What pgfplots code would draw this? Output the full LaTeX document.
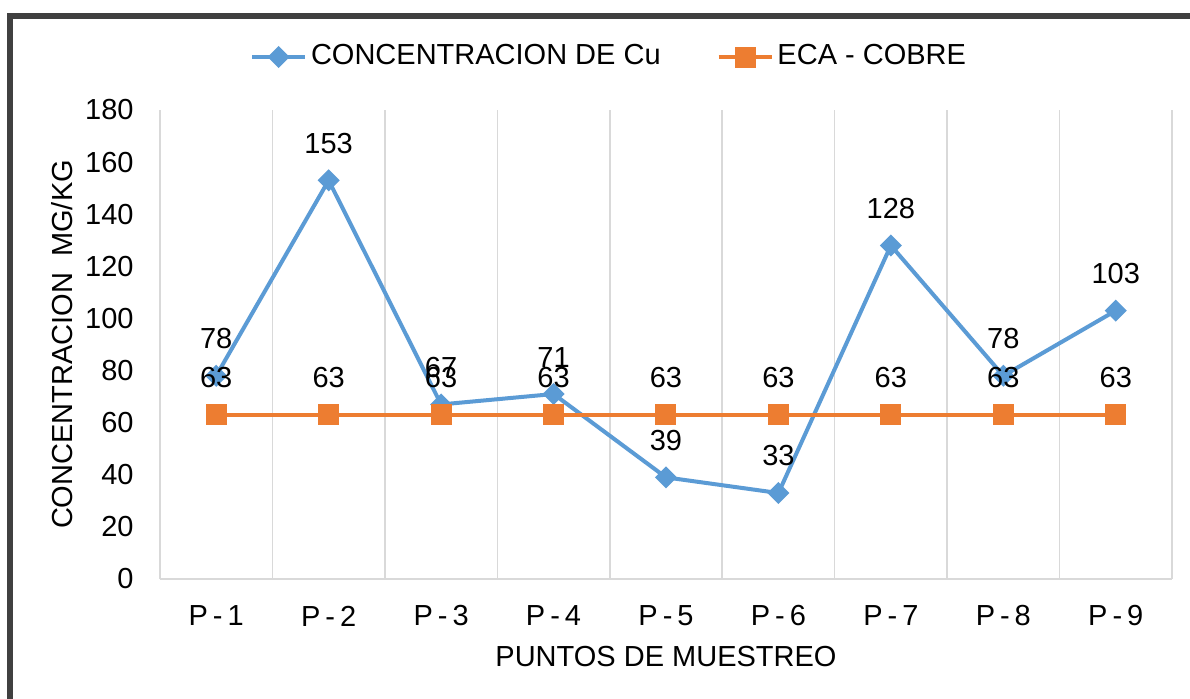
\documentclass[border=0pt]{standalone}
\usepackage{pgfplots}
\pgfplotsset{compat=1.18}
\usepackage{fontspec}
\setmainfont{Liberation Sans}
\definecolor{cuBlue}{HTML}{5B9BD5}
\definecolor{ecaOrange}{HTML}{ED7D31}
\definecolor{gridGray}{HTML}{D9D9D9}
\definecolor{frameGray}{HTML}{404040}

\begin{document}
\fontsize{14.5}{17}\selectfont
\begin{tikzpicture}
\useasboundingbox (0,0) rectangle (595pt,349pt);
\fill[white] (0,0) rectangle (595pt,349pt);
% outer frame (cropped on the right and bottom)
\draw[frameGray, line width=3pt] (620pt,340.85pt) -- (5.15pt,340.85pt) -- (5.15pt,-20pt);
\begin{axis}[
  at={(80pt,59.5pt)}, anchor=south west,
  width=506pt, height=234.5pt, scale only axis,
  font=\fontsize{14.5}{17}\selectfont,
  /pgf/number format/assume math mode=true,
  xmin=0.5, xmax=9.5, ymin=0, ymax=180,
  xtick={1,2,3,4,5,6,7,8,9},
  xticklabels={P{\kern2.5pt}-{\kern2.5pt}1,P{\kern2.5pt}-{\kern2.5pt}2,P{\kern2.5pt}-{\kern2.5pt}3,P{\kern2.5pt}-{\kern2.5pt}4,P{\kern2.5pt}-{\kern2.5pt}5,P{\kern2.5pt}-{\kern2.5pt}6,P{\kern2.5pt}-{\kern2.5pt}7,P{\kern2.5pt}-{\kern2.5pt}8,P{\kern2.5pt}-{\kern2.5pt}9},
  ytick={0,20,...,180},
  minor xtick={0.5,1.5,...,9.5},
  xminorgrids=true,
  minor grid style={gridGray, line width=0.75pt},
  extra y ticks={0}, extra y tick labels={},
  extra y tick style={ymajorgrids=true, major grid style={gridGray, line width=0.75pt}},
  major tick length=0pt, minor tick length=0pt,
  axis line style={draw=none},
  yticklabel style={anchor=east, inner sep=0pt, xshift=-13pt},
  xticklabel style={anchor=center, inner sep=0pt, yshift=-18.5pt},
  xlabel={PUNTOS DE MUESTREO},
  ylabel={CONCENTRACION\ \ MG/KG},
  xlabel style={at={(rel axis cs:0.5,0)}, anchor=center, yshift=-39pt},
  ylabel style={at={(rel axis cs:0,0.5)}, anchor=center, yshift=49pt},
  legend style={at={(0.4447,1.113)}, anchor=center, draw=none, fill=none,
    /tikz/every even column/.append style={column sep=26pt}},
  legend columns=2,
  legend image code/.code={\draw[mark repeat=2, mark phase=2, #1] plot coordinates {(0pt,0pt) (13.25pt,0pt) (26.5pt,0pt)};},
  nodes near coords,
  every node near coord/.append style={anchor=south, inner sep=0pt, yshift=12.5pt, text=black},
  clip=false,
]
\addplot[cuBlue, line width=2pt, mark=square*, mark size=2.9pt,
  mark options={rotate=45, solid, fill=cuBlue}]
  coordinates {(1,78) (2,153) (3,67) (4,71) (5,39) (6,33) (7,128) (8,78) (9,103)};
\addlegendentry{CONCENTRACION DE Cu}
\addplot[ecaOrange, line width=1.9pt, mark=square*, mark size=4.3pt,
  mark options={solid, fill=ecaOrange}]
  coordinates {(1,63) (2,63) (3,63) (4,63) (5,63) (6,63) (7,63) (8,63) (9,63)};
\addlegendentry{ECA - COBRE}
\end{axis}
\end{tikzpicture}
\end{document}
